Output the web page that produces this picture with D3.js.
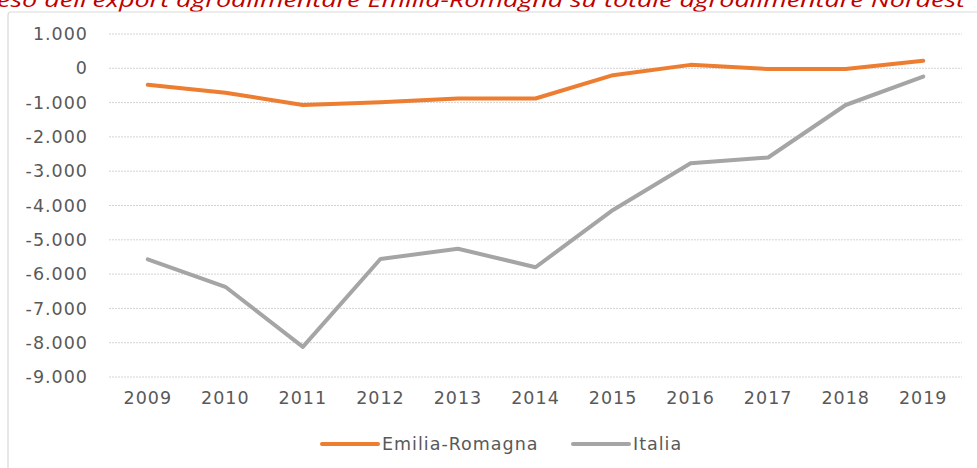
<!DOCTYPE html>
<html>
<head>
<meta charset="utf-8">
<script src="https://cdn.jsdelivr.net/npm/d3@7"></script>
<style>
	html, body { margin: 0; padding: 0; background: #fff; overflow: hidden; }
	svg { display: block; }
</style>
</head>
<body>
<script>
// data
var years = ['2009', '2010', '2011', '2012', '2013', '2014', '2015', '2016', '2017', '2018', '2019'];
var emiliaRomagna = [-480, -710, -1070, -990, -880, -880, -200, 100, -20, -20, 220];
var italia = [-5570, -6370, -8120, -5560, -5260, -5800, -4130, -2770, -2600, -1070, -240];
var yTicks = [1000, 0, -1000, -2000, -3000, -4000, -5000, -6000, -7000, -8000, -9000];
var seriesNames = ['Emilia-Romagna', 'Italia'];
var seriesColors = ['#ed7d31', '#a5a5a5'];

var width = 977,
	height = 468,
	font = '"DejaVu Sans", sans-serif',
	textColor = '#595959';

var it = d3.formatLocale({ decimal: ',', thousands: '.', grouping: [3], currency: ['', ' €'], minus: '-' });
var fmt = it.format(',d');

var svg = d3.select('body').append('svg')
	.attr('width', width)
	.attr('height', height);

// title, cut at the top edge like the reference
svg.append('text')
	.attr('x', -3)
	.attr('y', 7)
	.attr('textLength', 968)
	.attr('lengthAdjust', 'spacingAndGlyphs')
	.style('font-family', '"Open Sans", sans-serif')
	.style('font-style', 'italic')
	.style('font-size', '20px')
	.attr('fill', '#c00000')
	.text("eso dell'export agroalimentare Emilia-Romagna su totale agroalimentare Nordest");

// chart frame
svg.append('rect')
	.attr('x', 8)
	.attr('y', 12)
	.attr('width', 985)
	.attr('height', 470)
	.attr('rx', 3)
	.attr('fill', 'none')
	.attr('stroke', '#d9d9d9')
	.attr('stroke-width', 1.2);

var x = d3.scaleBand()
	.domain(years)
	.range([109, 962]);
var y = d3.scaleLinear()
	.domain([-9000, 1000])
	.range([377, 34]);

// gridlines
svg.append('g')
	.selectAll('line')
	.data(yTicks)
	.join('line')
	.attr('x1', 109)
	.attr('x2', 962)
	.attr('y1', function(d) { return y(d); })
	.attr('y2', function(d) { return y(d); })
	.attr('stroke', '#d4d4d4')
	.attr('stroke-width', 1)
	.attr('stroke-dasharray', '2,1');

// y axis labels
var yAxis = svg.append('g')
	.attr('transform', 'translate(96,0)')
	.call(d3.axisLeft(y).tickValues(yTicks).tickFormat(fmt).tickSize(0).tickPadding(8));
yAxis.select('.domain').remove();
yAxis.selectAll('text')
	.attr('fill', textColor)
	.style('font-family', font)
	.style('font-size', '17.5px')
	.style('letter-spacing', '1px');

// x axis labels
var xAxis = svg.append('g')
	.attr('transform', 'translate(0,382)')
	.call(d3.axisBottom(x).tickSize(0).tickPadding(10));
xAxis.select('.domain').remove();
xAxis.selectAll('text')
	.attr('fill', textColor)
	.style('font-family', font)
	.style('font-size', '17.5px')
	.style('letter-spacing', '1px');

var line = d3.line()
	.x(function(d, i) { return x(years[i]) + x.bandwidth() / 2; })
	.y(function(d) { return y(d); });

[emiliaRomagna, italia].forEach(function(values, i) {
	svg.append('path')
		.datum(values)
		.attr('fill', 'none')
		.attr('stroke', seriesColors[i])
		.attr('stroke-width', 4)
		.attr('stroke-linejoin', 'round')
		.attr('stroke-linecap', 'round')
		.attr('d', line);
});

// legend
var legendX = [322, 573];
var legend = svg.append('g')
	.selectAll('g')
	.data(seriesNames)
	.join('g')
	.attr('transform', function(d, i) { return 'translate(' + legendX[i] + ',444)'; });
legend.append('line')
	.attr('x1', 0)
	.attr('x2', 56)
	.attr('stroke', function(d, i) { return seriesColors[i]; })
	.attr('stroke-width', 4)
	.attr('stroke-linecap', 'round');
legend.append('text')
	.attr('x', 60)
	.attr('y', 6)
	.attr('fill', textColor)
	.style('font-family', font)
	.style('font-size', '17.5px')
	.style('letter-spacing', '1px')
	.text(function(d) { return d; });
</script>
</body>
</html>
